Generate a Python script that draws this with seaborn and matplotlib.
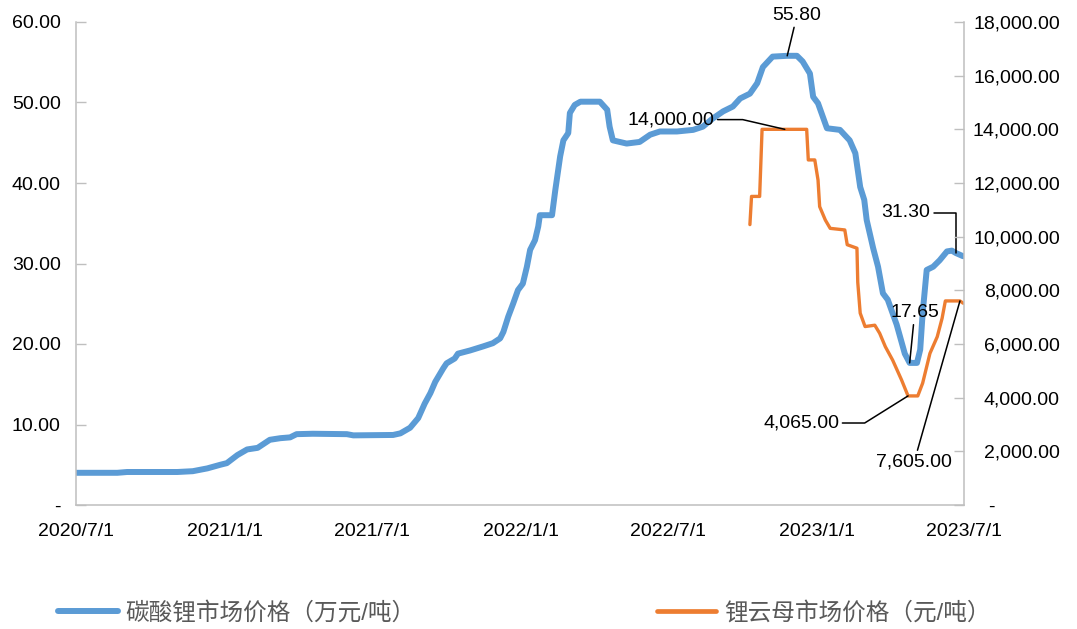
import matplotlib
matplotlib.use("Agg")
import matplotlib.pyplot as plt
import matplotlib.ticker as mticker
import numpy as np
import pandas as pd
import seaborn as sns

# 碳酸锂市场价格（万元/吨）
li2co3_dates = [
    "2020-07-01", "2020-08-21", "2020-09-02", "2020-11-03", "2020-11-22", "2020-12-10",
    "2020-12-26", "2021-01-03", "2021-01-16", "2021-01-28", "2021-02-10", "2021-02-25",
    "2021-03-10", "2021-03-22", "2021-03-30", "2021-04-19", "2021-05-31", "2021-06-08",
    "2021-07-27", "2021-08-05", "2021-08-17", "2021-08-27", "2021-09-04", "2021-09-11",
    "2021-09-17", "2021-09-27", "2021-10-01", "2021-10-11", "2021-10-15", "2021-10-30",
    "2021-11-15", "2021-11-27", "2021-12-06", "2021-12-10", "2021-12-16", "2021-12-22",
    "2021-12-28", "2022-01-03", "2022-01-08", "2022-01-12", "2022-01-18", "2022-01-22",
    "2022-01-24", "2022-02-08", "2022-02-12", "2022-02-15", "2022-02-18", "2022-02-22",
    "2022-02-28", "2022-03-02", "2022-03-08", "2022-03-15", "2022-04-08", "2022-04-17",
    "2022-04-20", "2022-04-24", "2022-05-11", "2022-05-27", "2022-06-09", "2022-06-21",
    "2022-07-12", "2022-08-01", "2022-08-13", "2022-08-25", "2022-09-07", "2022-09-19",
    "2022-09-28", "2022-10-10", "2022-10-19", "2022-10-26", "2022-11-07", "2022-11-25",
    "2022-12-07", "2022-12-14", "2022-12-23", "2022-12-27", "2023-01-02", "2023-01-13",
    "2023-01-29", "2023-02-10", "2023-02-17", "2023-02-23", "2023-02-28", "2023-03-03",
    "2023-03-11", "2023-03-17", "2023-03-23", "2023-03-29", "2023-04-09", "2023-04-19",
    "2023-04-25", "2023-05-04", "2023-05-08", "2023-05-11", "2023-05-16", "2023-05-24",
    "2023-06-01", "2023-06-10", "2023-06-16", "2023-06-21", "2023-06-30",
]
li2co3_price = [
    4.0, 4.0, 4.1, 4.1, 4.2, 4.55,
    5.0, 5.2, 6.2, 6.9, 7.1, 8.1,
    8.3, 8.4, 8.8, 8.85, 8.8, 8.65,
    8.7, 8.9, 9.6, 10.8, 12.6, 13.9,
    15.3, 17.0, 17.6, 18.2, 18.8, 19.2,
    19.7, 20.1, 20.7, 21.5, 23.4, 25.0,
    26.7, 27.5, 29.6, 31.7, 32.9, 34.6,
    36.0, 36.0, 39.1, 41.2, 43.3, 45.3,
    46.2, 48.7, 49.7, 50.1, 50.1, 49.1,
    47.0, 45.3, 44.9, 45.1, 46.0, 46.4,
    46.4, 46.6, 47.0, 48.0, 48.9, 49.5,
    50.5, 51.1, 52.4, 54.4, 55.7, 55.8,
    55.8, 55.1, 53.6, 50.7, 49.9, 46.8,
    46.6, 45.3, 43.7, 39.5, 37.9, 35.4,
    31.9, 29.6, 26.3, 25.5, 22.4, 18.8,
    17.65, 17.65, 19.3, 23.8, 29.2, 29.6,
    30.4, 31.5, 31.6, 31.3, 30.9,
]

# 锂云母市场价格（元/吨）
lepidolite_dates = [
    "2022-10-10", "2022-10-12", "2022-10-22", "2022-10-25", "2022-11-22", "2022-12-19",
    "2022-12-21", "2022-12-29", "2023-01-02", "2023-01-04", "2023-01-11", "2023-01-17",
    "2023-02-04", "2023-02-07", "2023-02-19", "2023-02-20", "2023-02-23", "2023-03-01",
    "2023-03-13", "2023-03-19", "2023-03-26", "2023-04-04", "2023-04-15", "2023-04-23",
    "2023-05-05", "2023-05-11", "2023-05-20", "2023-05-29", "2023-06-04", "2023-06-08",
    "2023-06-26", "2023-06-30",
]
lepidolite_price = [
    10450, 11500, 11500, 14000, 14000, 14000,
    12860, 12860, 12110, 11120, 10620, 10310,
    10250, 9700, 9570, 8300, 7150, 6650,
    6700, 6400, 5900, 5400, 4660, 4065,
    4065, 4540, 5650, 6270, 6960, 7605,
    7605, 7520,
]

x_tick_dates = ["2020-07-01", "2021-01-01", "2021-07-01", "2022-01-01",
                "2022-07-01", "2023-01-01", "2023-07-01"]
x_tick_labels = ["2020/7/1", "2021/1/1", "2021/7/1", "2022/1/1",
                 "2022/7/1", "2023/1/1", "2023/7/1"]
left_ticks = [0, 10, 20, 30, 40, 50, 60]
right_ticks = [0, 2000, 4000, 6000, 8000, 10000, 12000, 14000, 16000, 18000]

label_blue = "碳酸锂市场价格（万元/吨）"
label_orange = "锂云母市场价格（元/吨）"

BLUE = "#5B9BD5"
ORANGE = "#ED7D31"
SPINE = "#BFBFBF"

sns.set_style("white")
plt.rcParams["font.family"] = ["Liberation Sans", "Noto Sans CJK SC", "DejaVu Sans"]

blue_df = pd.DataFrame({"date": pd.to_datetime(li2co3_dates), "price": li2co3_price})
orange_df = pd.DataFrame({"date": pd.to_datetime(lepidolite_dates), "price": lepidolite_price})

fig = plt.figure(figsize=(10.77, 6.29), dpi=100)
ax = fig.add_axes([76 / 1077, 1 - 505 / 629, (964 - 76) / 1077, (505 - 22) / 629])
ax2 = ax.twinx()

sns.lineplot(data=blue_df, x="date", y="price", ax=ax, color=BLUE, linewidth=4.3,
             label=label_blue, legend=False)
sns.lineplot(data=orange_df, x="date", y="price", ax=ax2, color=ORANGE, linewidth=2.4,
             label=label_orange, legend=False)

ax.set_xlim(pd.Timestamp(x_tick_dates[0]), pd.Timestamp(x_tick_dates[-1]))
ax.set_ylim(left_ticks[0], left_ticks[-1])
ax2.set_ylim(right_ticks[0], right_ticks[-1])
ax.set_xticks(pd.to_datetime(x_tick_dates))
ax.set_xticklabels(x_tick_labels)
ax.set_yticks(left_ticks)
ax2.set_yticks(right_ticks)
ax.yaxis.set_major_formatter(mticker.FuncFormatter(lambda v, p: "-" if v == 0 else f"{v:.2f}"))
ax2.yaxis.set_major_formatter(
    mticker.FuncFormatter(lambda v, p: "-" + " " * 12 if v == 0 else f"{v:,.2f}"))

ax.set_xlabel("")
ax.set_ylabel("")
ax2.set_ylabel("")

for a in (ax, ax2):
    a.grid(False)
    for s in a.spines.values():
        s.set_visible(False)
ax.spines["left"].set_visible(True)
ax.spines["bottom"].set_visible(True)
ax2.spines["right"].set_visible(True)
for s in (ax.spines["left"], ax.spines["bottom"], ax2.spines["right"]):
    s.set_color(SPINE)
    s.set_linewidth(1.1)

ax.tick_params(axis="x", direction="in", length=7, width=1, color=SPINE, pad=13,
               labelsize=14, labelcolor="black")
ax.tick_params(axis="y", direction="in", length=7, width=1, color=SPINE, pad=11,
               labelsize=14, labelcolor="black")
ax2.tick_params(axis="y", direction="in", length=7, width=1, color=SPINE, pad=69,
                labelsize=14, labelcolor="black")
for lab in ax2.get_yticklabels():
    lab.set_horizontalalignment("right")

# data labels with leader lines
def label_point(a, df, date, fmt, offset, conn="arc3"):
    row = df.loc[df["date"] == pd.Timestamp(date)].iloc[0]
    a.annotate(fmt.format(row["price"]), xy=(row["date"], row["price"]),
               xytext=offset, textcoords="offset points", ha="center", va="center",
               fontsize=14, color="black",
               arrowprops=dict(arrowstyle="-", color="black", lw=1.1,
                               shrinkA=0, shrinkB=0, connectionstyle=conn))

label_point(ax, blue_df, "2022-11-25", "{:.2f}", (7, 29))
label_point(ax, blue_df, "2023-04-25", "{:.2f}", (3.6, 36))
label_point(ax, blue_df, "2023-06-21", "{:.2f}", (-36, 29), "angle,angleA=0,angleB=90,rad=0")
label_point(ax2, orange_df, "2022-11-22", "{:,.2f}", (-82, 7), "angle,angleA=0,angleB=-13,rad=0")
label_point(ax2, orange_df, "2023-04-23", "{:,.2f}", (-77, -19.5), "angle,angleA=0,angleB=32,rad=0")
label_point(ax2, orange_df, "2023-06-26", "{:,.2f}", (-33, -116))

handles = ax.get_lines()[:1] + ax2.get_lines()[:1]
leg = fig.legend(handles, [label_blue, label_orange], loc="center",
                 bbox_to_anchor=(0.487, 0.025), ncol=2, frameon=False,
                 handlelength=2.5, handletextpad=0.35, columnspacing=10.2,
                 fontsize=17, labelcolor="#595959")
leg.get_lines()[1].set_linewidth(3.4)

fig.savefig("out.png", dpi=100)
